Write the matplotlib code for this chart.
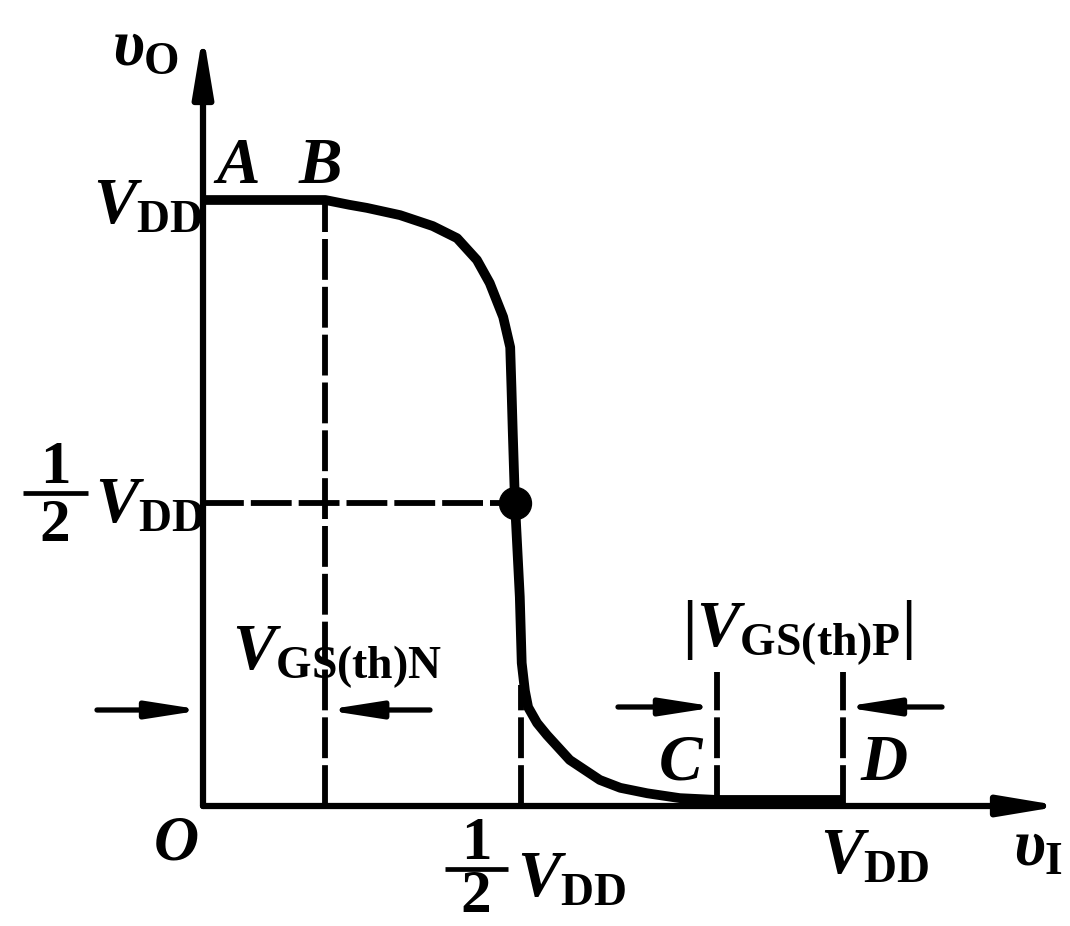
import matplotlib.pyplot as plt

plt.rcParams["mathtext.fontset"] = "custom"
plt.rcParams["mathtext.it"] = "Liberation Serif:italic:bold"
plt.rcParams["mathtext.rm"] = "Liberation Serif:bold"
plt.rcParams["mathtext.bf"] = "Liberation Serif:bold"
plt.rcParams["font.family"] = ["Liberation Serif", "DejaVu Serif"]

# CMOS inverter transfer curve, v_I and v_O in units of V_DD
v_in = [0.0, 0.191, 0.229, 0.256, 0.308, 0.359, 0.397, 0.428, 0.448, 0.469,
        0.480, 0.482, 0.484, 0.4875, 0.495, 0.498, 0.503, 0.508, 0.522, 0.5375,
        0.573, 0.620, 0.652, 0.694, 0.745, 0.803, 1.0]
v_out = [1.0, 1.0, 0.992, 0.987, 0.975, 0.957, 0.937, 0.901, 0.863, 0.807,
         0.757, 0.69, 0.617, 0.5, 0.345, 0.236, 0.19, 0.163, 0.137, 0.117,
         0.076, 0.043, 0.030, 0.021, 0.013, 0.010, 0.010]

vdd = 1.0
half = 0.5
vth_n = 0.191          # point B
point_c = 0.803        # V_DD - |V_GS(th)P|
mid_x = 0.497          # dashed guide under the steep part
dot = (0.4875, 0.5)

# pixel layout: origin at (203, 806), V_DD = 640 px on x, 606 px on y
W, H = 1070, 926
ox, oy, sx, sy = 203, 806, 640, 606


def px(x, y):
    return (x - ox) / sx, (oy - y) / sy


fig = plt.figure(figsize=(W / 100, H / 100), dpi=100)
ax = fig.add_axes([0, 0, 1, 1])
ax.set_xlim(-ox / sx, (W - ox) / sx)
ax.set_ylim(-(H - oy) / sy, oy / sy)
ax.axis("off")

dash = dict(color="k", lw=4.2, dashes=[7.0, 1.2], solid_capstyle="butt", dash_capstyle="butt")

# guide lines
ax.plot([vth_n, vth_n], [0, vdd], **dash)
ax.plot([0, dot[0]], [half, half], **dash)
ax.plot([mid_x, mid_x], [0, 0.2], **dash)
y_top = px(0, 672)[1]
ax.plot([point_c, point_c], [0, y_top], **dash)
ax.plot([vdd, vdd], [0, y_top], **dash)


def arrow(x0, y0, x1, y1, hl, hw, lw):
    ax.annotate("", xy=(x1, y1), xytext=(x0, y0),
                arrowprops=dict(arrowstyle=f"-|>,head_length={hl},head_width={hw}",
                                mutation_scale=10, lw=lw, color="k",
                                shrinkA=0, shrinkB=0))


# axes
arrow(0, 0, 0, px(0, 33)[1], 3.6, 0.6, 4.5)
arrow(0, 0, px(1062, 0)[0], 0, 3.6, 0.6, 4.5)

# curve
ax.plot(v_in, v_out, color="k", lw=7, solid_joinstyle="round", solid_capstyle="butt")
ax.plot(*dot, "o", color="k", ms=23)

# threshold arrows
ya = px(0, 710)[1]
arrow(px(97, 0)[0], ya, 0, ya, 3.2, 0.5, 3.8)
arrow(px(430, 0)[0], ya, vth_n, ya, 3.2, 0.5, 3.8)
yb = px(0, 707)[1]
arrow(px(618, 0)[0], yb, point_c, yb, 3.2, 0.5, 3.8)
arrow(px(942, 0)[0], yb, vdd, yb, 3.2, 0.5, 3.8)

fs = 47


def label(x, y, s, size=fs, ha="left"):
    ax.text(*px(x, y), s, fontsize=size, ha=ha, va="baseline")


def frac(xc, y_bar, x0, x1, gap=48):
    ax.text(*px(xc, y_bar - 10), "1", fontsize=44, fontweight="bold", ha="center", va="baseline")
    ax.text(*px(xc, y_bar + gap), "2", fontsize=44, fontweight="bold", ha="center", va="baseline")
    ax.plot([px(x0, 0)[0], px(x1, 0)[0]], [px(0, y_bar)[1]] * 2, color="k", lw=3.4,
            solid_capstyle="butt")


label(112, 65, "$\u03c5_{\\mathrm{O}}$")
label(1013, 865, "$\u03c5_{\\mathrm{I}}$")
label(213, 183, r"$A$")
label(298, 183, r"$B$")
label(658, 780, r"$C$")
label(860, 780, r"$D$")
label(153, 860, r"$O$", size=45)
label(93, 223, r"$V_{\mathrm{DD}}$")
label(820, 873, r"$V_{\mathrm{DD}}$")
frac(55, 493, 23, 88)
label(95, 522, r"$V_{\mathrm{DD}}$")
frac(476, 869, 445, 508, gap=43)
label(517, 896, r"$V_{\mathrm{DD}}$")
label(232, 670, r"$V_{\mathrm{GS(th)N}}$")
label(682, 647, r"$|V_{\mathrm{GS(th)P}}|$")

fig.savefig("out.png", dpi=100, facecolor="white")
